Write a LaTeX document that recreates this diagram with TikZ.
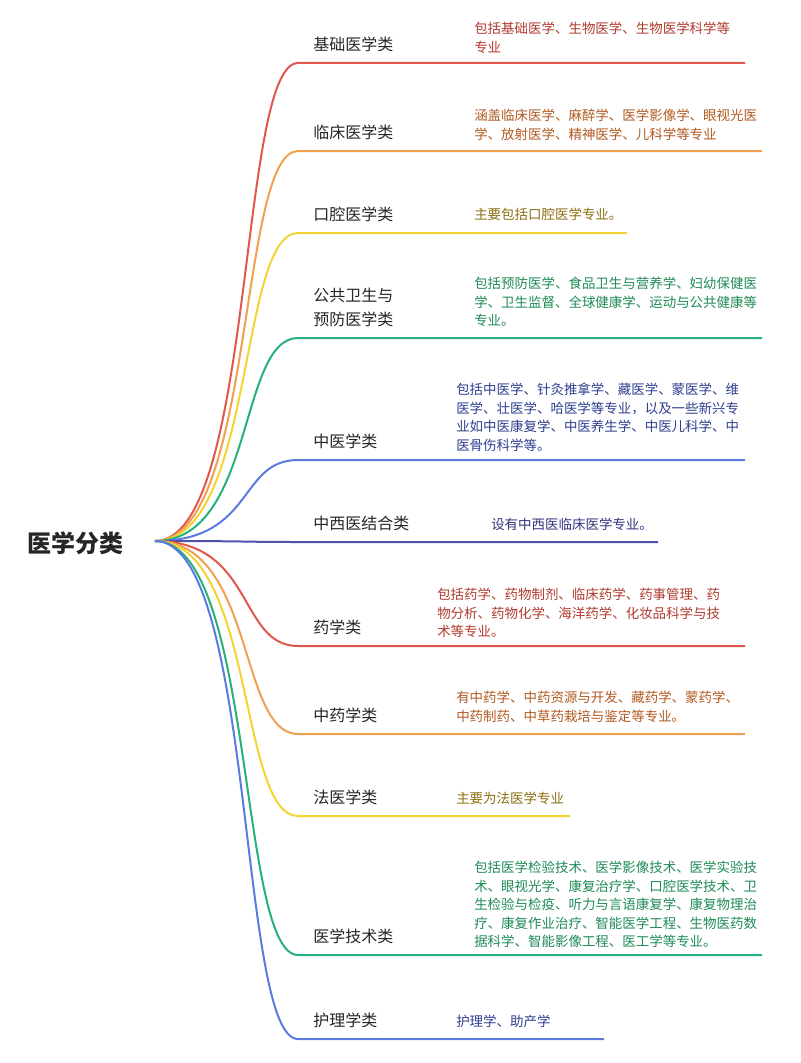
\documentclass[tikz,border=0pt]{standalone}
\usepackage{fontspec}
\setmainfont{Noto Sans CJK SC}
\definecolor{br1}{HTML}{E0584D}
\definecolor{br2}{HTML}{F0A050}
\definecolor{br3}{HTML}{F2D433}
\definecolor{br4}{HTML}{26B07A}
\definecolor{br5}{HTML}{5A7BE0}
\definecolor{br6}{HTML}{4F52A8}
\definecolor{dr1}{HTML}{B03A2E}
\definecolor{dr2}{HTML}{B05A20}
\definecolor{dr3}{HTML}{8C6D10}
\definecolor{dr4}{HTML}{1E8A55}
\definecolor{dr5}{HTML}{2D3E8F}
\definecolor{dr6}{HTML}{33337F}

\begin{document}
\begin{tikzpicture}[
x=0.75pt, y=-0.75pt,
  root/.style = {font=\fontsize{18}{22}\selectfont\bfseries, text=black!85},
   lab/.style = {anchor=south west, inner sep=0pt, align=left,
                 font=\fontsize{12}{18}\selectfont, text=black!85},
  desc/.style = {anchor=north west, inner sep=0pt, align=left,
                 font=\fontsize{10.1}{13.9}\selectfont},
branch/.style = {line width=1.5pt},
                        ]
\useasboundingbox (0,0) rectangle (800,1063);
\node[root] (R) at (75,543) {医学分类};
\coordinate (O) at (155,541);
\foreach \n/\y/\e/\c/\lab/\dx/\dy/\txt in {
 1/63/745/1/{基础医学类}/474/31/{包括基础医学、生物医学、生物医学科学等\\专业},
 2/151/762/2/{临床医学类}/474/118/{涵盖临床医学、麻醉学、医学影像学、眼视光医\\学、放射医学、精神医学、儿科学等专业},
 3/233/627/3/{口腔医学类}/474/217/{主要包括口腔医学专业。},
 4/338/762/4/{公共卫生与\\预防医学类}/474/286/{包括预防医学、食品卫生与营养学、妇幼保健医\\学、卫生监督、全球健康学、运动与公共健康等\\专业。},
 5/460/745/5/{中医学类}/456/392/{包括中医学、针灸推拿学、藏医学、蒙医学、维\\医学、壮医学、哈医学等专业，以及一些新兴专\\业如中医康复学、中医养生学、中医儿科学、中\\医骨伤科学等。},
 6/542/658/6/{中西医结合类}/491/527/{设有中西医临床医学专业。},
 7/646/745/1/{药学类}/437/597/{包括药学、药物制剂、临床药学、药事管理、药\\物分析、药物化学、海洋药学、化妆品科学与技\\术等专业。},
 8/734/745/2/{中药学类}/456/700/{有中药学、中药资源与开发、藏药学、蒙药学、\\中药制药、中草药栽培与鉴定等专业。},
 9/816/570/3/{法医学类}/456/801/{主要为法医学专业},
 10/955/762/4/{医学技术类}/474/870/{包括医学检验技术、医学影像技术、医学实验技\\术、眼视光学、康复治疗学、口腔医学技术、卫\\生检验与检疫、听力与言语康复学、康复物理治\\疗、康复作业治疗、智能医学工程、生物医药数\\据科学、智能影像工程、医工学等专业。},
 11/1039/604/5/{护理学类}/456/1024/{护理学、助产学}}
{
\coordinate (k\n) at (298,\y);
\coordinate (e\n) at (\e,\y);
\node[lab] (L\n) at (313,\y-11) {\lab};
\node[desc, text=dr\c] (D\n) at (\dx,\dy-9) {\txt};
\draw[branch, br\c] (O) .. controls (255,541) and (238,\y) .. (k\n) -- (e\n);
}
\end{tikzpicture}
\end{document}
